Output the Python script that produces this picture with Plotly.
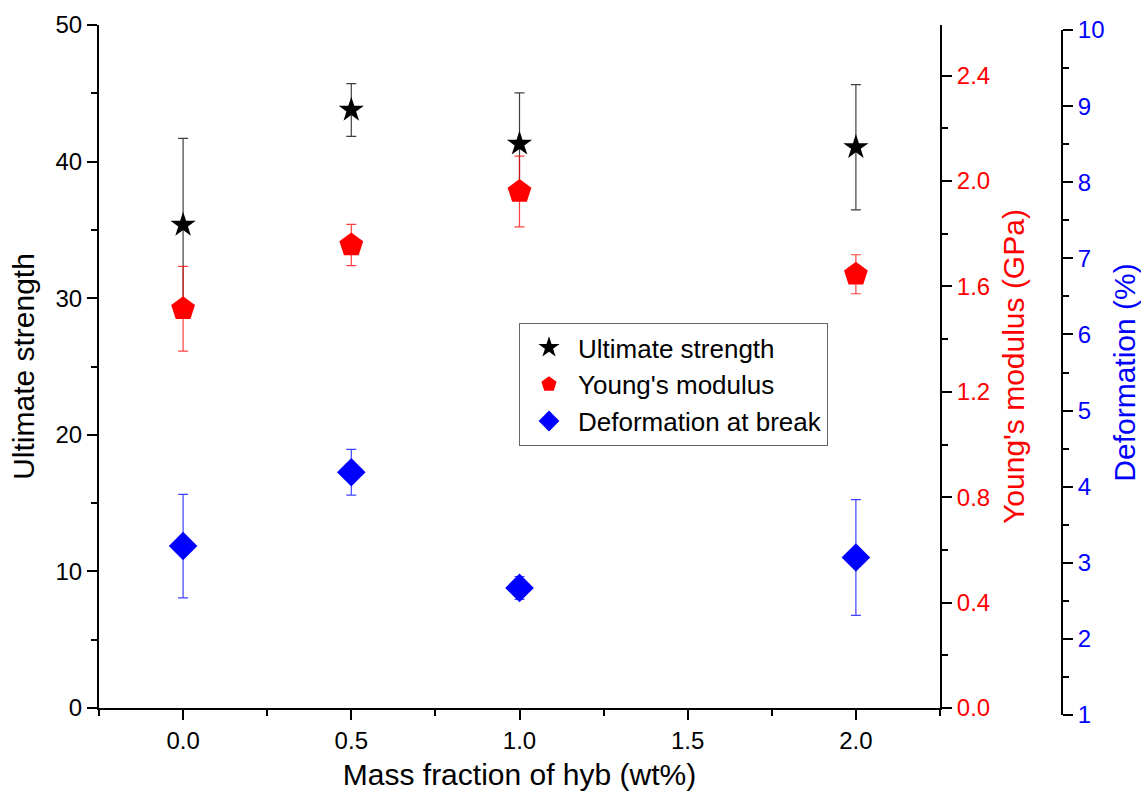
import plotly.graph_objects as go

# ---- data ----
mass_fraction = [0.0, 0.5, 1.0, 2.0]
strength = [35.36, 43.78, 41.30, 41.05]
strength_err = [6.34, 1.93, 3.73, 4.58]
modulus = [1.515, 1.757, 1.96, 1.646]
modulus_err = [0.161, 0.078, 0.134, 0.074]
deformation = [3.22, 4.19, 2.67, 3.07]
deformation_err = [0.68, 0.30, 0.15, 0.76]

FONT = "Arial, Liberation Sans, sans-serif"
W, H = 1141, 798
ML, MR, MT, MB = 99, 20, 25, 83
pw = W - ML - MR
ph = H - MT - MB

def px_x(p):
    return (p - ML) / pw

def px_y(p):
    return (H - MB - p) / ph

fig = go.Figure()
fig.add_trace(go.Scatter(
    x=mass_fraction, y=strength, mode="markers", name="Ultimate strength",
    marker=dict(symbol="star", size=19, color="black"),
    error_y=dict(type="data", array=strength_err, color="rgba(0,0,0,0.75)", thickness=1.2, width=5),
    xaxis="x", yaxis="y"))
fig.add_trace(go.Scatter(
    x=mass_fraction, y=modulus, mode="markers", name="Young's modulus",
    marker=dict(symbol="pentagon", size=25, color="red"),
    error_y=dict(type="data", array=modulus_err, color="rgba(255,0,0,0.75)", thickness=1.2, width=5),
    xaxis="x", yaxis="y2"))
fig.add_trace(go.Scatter(
    x=mass_fraction, y=deformation, mode="markers", name="Deformation at break",
    marker=dict(symbol="diamond", size=22, color="blue"),
    error_y=dict(type="data", array=deformation_err, color="rgba(0,0,255,0.75)", thickness=1.2, width=5),
    xaxis="x", yaxis="y3"))

axis_common = dict(showline=True, linecolor="black", linewidth=2, ticks="outside",
                   ticklen=10, tickwidth=2, tickcolor="black", showgrid=False, zeroline=False)
minor_common = dict(ticks="outside", ticklen=6, tickwidth=2, tickcolor="black")

fig.update_layout(
    width=W, height=H,
    margin=dict(l=ML, r=MR, t=MT, b=MB, autoexpand=False),
    paper_bgcolor="white", plot_bgcolor="rgba(0,0,0,0)",
    font=dict(family=FONT, size=24, color="black"),
    showlegend=True,
    legend=dict(x=px_x(519), y=px_y(323), xanchor="left", yanchor="top",
                bordercolor="#666666", borderwidth=1, bgcolor="white",
                font=dict(size=26, family=FONT), itemsizing="trace", itemwidth=48,
                tracegroupgap=0),
    xaxis=dict(domain=[0, px_x(940)], range=[-0.25, 2.25], tickvals=[0, 0.5, 1.0, 1.5, 2.0],
               ticktext=["0.0", "0.5", "1.0", "1.5", "2.0"],
               anchor="y",
               title=dict(text="Mass fraction of hyb (wt%)", font=dict(size=30), standoff=11),
               minor=dict(tickvals=[-0.25, 0.25, 0.75, 1.25, 1.75, 2.25], **minor_common),
               **axis_common),
    yaxis=dict(domain=[px_y(708), 1], range=[0, 50], dtick=10,
               title=dict(text="Ultimate strength", font=dict(size=30), standoff=12),
               minor=dict(dtick=5, **minor_common),
               **axis_common),
    yaxis2=dict(domain=[px_y(708), 1], range=[0, 2.592], overlaying="y", side="right", anchor="x",
                tickvals=[0, 0.4, 0.8, 1.2, 1.6, 2.0, 2.4], tickformat=".1f",
                tickfont=dict(color="red"),
                title=dict(text="Young's modulus (GPa)", font=dict(size=30, color="red"), standoff=14),
                minor=dict(dtick=0.2, **minor_common),
                **axis_common),
    yaxis3=dict(domain=[0, px_y(30)], range=[1, 10], side="right", anchor="free",
                position=px_x(1062), dtick=1,
                tickfont=dict(color="blue"),
                title=dict(text="Deformation (%)", font=dict(size=30, color="blue"), standoff=10),
                minor=dict(dtick=0.5, **minor_common),
                **axis_common),
)

fig.write_html("out.html", config={"displayModeBar": False},
               post_script="document.body.style.margin='0';")
